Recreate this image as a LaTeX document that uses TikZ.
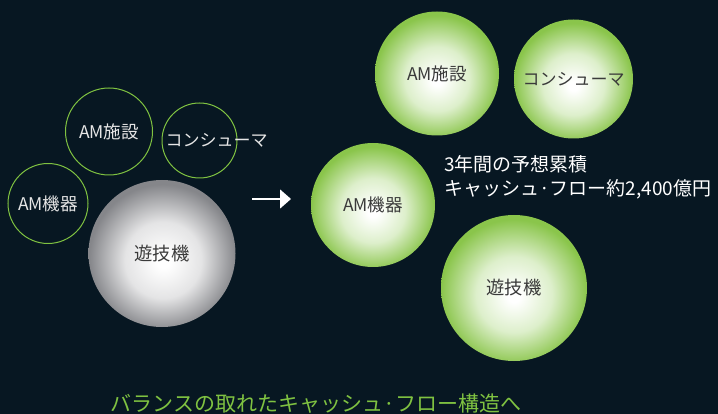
\documentclass[tikz,border=0pt]{standalone}
\usepackage{fontspec}
\setmainfont{Noto Sans CJK JP}
\usetikzlibrary{arrows.meta}
\definecolor{bg}{HTML}{071722}
\definecolor{lgreen}{HTML}{7FC241}
\definecolor{ballgreen}{HTML}{8AC54B}
\definecolor{ballgreenmid}{HTML}{DDEFCB}
\definecolor{ballgray}{HTML}{85868A}
\definecolor{ballgraymid}{HTML}{E4E4E5}
\definecolor{darktxt}{HTML}{3A3A3A}
\definecolor{lighttxt}{HTML}{E6E6E6}
\pgfdeclareradialshading{greenball}{\pgfpoint{0bp}{-3bp}}{color(0bp)=(white); color(2bp)=(white); color(13bp)=(ballgreenmid); color(25bp)=(ballgreen); color(50bp)=(ballgreen)}
\pgfdeclareradialshading{grayball}{\pgfpoint{0.5bp}{-3bp}}{color(0bp)=(white); color(2bp)=(white); color(13bp)=(ballgraymid); color(25bp)=(ballgray); color(50bp)=(ballgray)}
\tikzset{
  ring/.style={circle, draw=lgreen, line width=1pt, inner sep=0pt, text=lighttxt, font=\fontsize{17.5}{19}\selectfont},
  gball/.style={circle, shading=greenball, inner sep=0pt, text=darktxt, font=\fontsize{17.5}{19}\selectfont},
  grball/.style={circle, shading=grayball, inner sep=0pt, text=darktxt, font=\fontsize{18.3}{20}\selectfont},
  lbl/.style={inner sep=0pt, font=\fontsize{17}{19}\selectfont},
}
\begin{document}
\begin{tikzpicture}[x=1pt,y=-1pt]
\fill[bg] (0,0) rectangle (718,414);
\useasboundingbox (0,0) rectangle (718,414);
% left side
\node[ring, minimum size=87pt] (lfac) at (109,131.5) {AM施設};
\node[ring, minimum size=75pt] (lcon) at (199.5,140.5) {};
\node[lbl, text=lighttxt] (lcont) at (216.5,140) {コンシューマ};
\node[ring, minimum size=80pt] (lmac) at (48,203.5) {AM機器};
\node[grball, minimum size=147pt] (lpac) at (162,253.5) {遊技機};
% arrow
\coordinate (a1) at (252,199);
\coordinate (a2) at (291,199);
\draw[white, line width=1.3pt, -{Triangle[length=11pt,width=19pt]}] (a1) -- (a2);
% right side
\node[gball, minimum size=124pt] (rfac) at (437,73.5) {AM施設};
\node[gball, minimum size=119pt, font=\fontsize{17}{19}\selectfont] (rcon) at (573.5,79) {コンシューマ};
\node[gball, minimum size=124pt] (rmac) at (373,205) {AM機器};
\node[grball, shading=greenball, minimum size=146pt] (rpac) at (514,288) {遊技機};
\node[anchor=west, align=left, text=white, inner sep=0pt, font=\fontsize{19}{24}\selectfont] (cf) at (444,177) {3年間の予想累積\\キャッシュ·フロー約2,400億円};
% bottom
\node[text=lgreen, inner sep=0pt, font=\fontsize{21}{23}\selectfont] (bot) at (316,404) {バランスの取れたキャッシュ·フロー構造へ};
\end{tikzpicture}
\end{document}
